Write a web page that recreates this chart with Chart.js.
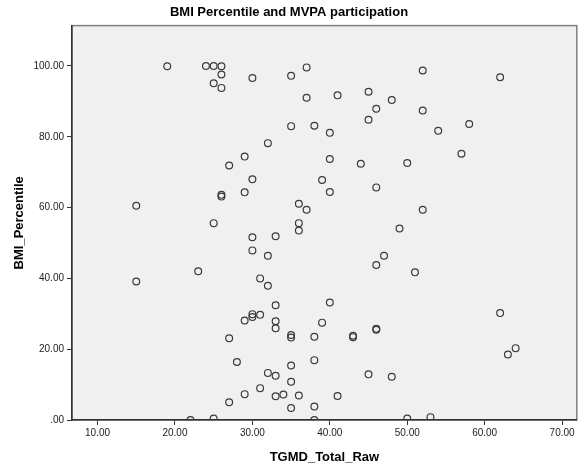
<!DOCTYPE html>
<html>
<head>
<meta charset="utf-8">
<script src="https://cdn.jsdelivr.net/npm/chart.js@4.4.1/dist/chart.umd.min.js"></script>
<style>
  body { margin: 0; background: #fff; }
  canvas { display: block; }
</style>
</head>
<body>
<canvas id="scatter" width="582" height="466"></canvas>
<script>
// TGMD raw score (x) and BMI percentile (y)
const tgmdRaw = [
    19, 24, 25, 26, 26, 30, 25, 26, 35, 37, 37, 35, 38, 32, 29, 27, 30, 29, 26, 26,
    15, 36, 37, 25, 36, 36, 52, 62, 41, 45, 48, 46, 52, 45, 40, 54, 58, 57, 40, 44,
    50, 39, 40, 46, 52, 49, 30, 33, 30, 32, 23, 15, 31, 32, 33, 29, 30, 30, 31, 33,
    33, 35, 35, 38, 39, 27, 38, 28, 35, 32, 33, 35, 31, 29, 33, 34, 36, 27, 35, 38,
    22, 25, 38, 47, 46, 51, 40, 62, 43, 43, 46, 46, 63, 64, 45, 48, 41, 50, 53
];
const bmiPercentile = [
    99.9, 100, 100, 99.9, 97.6, 96.6, 95.1, 93.8, 97.2, 99.6, 91.0, 83.0, 83.1, 78.2, 74.4, 71.9, 68.0, 64.3, 63.6, 63.1,
    60.5, 61.1, 59.4, 55.6, 55.6, 53.5, 98.7, 96.8, 91.7, 92.7, 90.4, 87.9, 87.4, 84.8, 81.1, 81.7, 83.6, 75.2, 73.7, 72.4,
    72.6, 67.8, 64.4, 65.7, 59.4, 54.1, 51.6, 51.9, 47.9, 46.4, 42.0, 39.1, 40.0, 37.9, 32.4, 28.1, 29.9, 29.1, 29.7, 27.9,
    25.9, 24.0, 23.3, 23.5, 27.5, 23.1, 16.9, 16.4, 15.4, 13.3, 12.5, 10.8, 9.0, 7.3, 6.7, 7.2, 6.9, 5.0, 3.4, 3.8,
    0, 0.4, 0, 46.4, 43.8, 41.7, 33.2, 30.2, 23.4, 23.8, 25.5, 25.8, 18.5, 20.3, 12.9, 12.2, 6.8, 0.4, 0.8
];
const xTicks = [10, 20, 30, 40, 50, 60, 70];
const yTicks = [0, 20, 40, 60, 80, 100];

const points = tgmdRaw.map((x, i) => ({ x: x, y: bmiPercentile[i] }));

// SPSS style labels: "20.00", ".00"
function spssLabel(v) {
    const s = Number(v).toFixed(2);
    return s.startsWith('0.') ? s.slice(1) : s;
}

const plotFrame = {
    id: 'plotFrame',
    beforeDraw(chart) {
        const { ctx, chartArea: a } = chart;
        ctx.save();
        ctx.fillStyle = '#f0f0f0';
        ctx.fillRect(a.left, a.top, a.right - a.left, a.bottom - a.top);
        ctx.strokeStyle = '#808080';
        ctx.lineWidth = 1.5;
        ctx.strokeRect(a.left, a.top, a.right - a.left, a.bottom - a.top);
        ctx.restore();
    }
};

Chart.defaults.font.family = '"Liberation Sans", Arial, sans-serif';
Chart.defaults.color = '#222';

new Chart(document.getElementById('scatter'), {
    type: 'scatter',
    data: {
        datasets: [{
            data: points,
            pointStyle: 'circle',
            pointRadius: 3.4,
            pointBorderWidth: 1.2,
            borderColor: '#3a3a3a',
            backgroundColor: 'rgba(0,0,0,0)',
            clip: 0
        }]
    },
    options: {
        responsive: false,
        animation: false,
        layout: { padding: { left: 0, right: 4, top: 0, bottom: 0 } },
        plugins: {
            legend: { display: false },
            tooltip: { enabled: false },
            title: {
                display: true,
                text: 'BMI Percentile and MVPA participation',
                color: '#000',
                font: { size: 13, weight: 'bold' },
                padding: { top: 5, bottom: 5 }
            }
        },
        scales: {
            x: {
                type: 'linear',
                min: 6.7,
                max: 71.9,
                afterBuildTicks: (scale) => { scale.ticks = xTicks.map(v => ({ value: v })); },
                afterFit: (scale) => { scale.height = 46; },
                ticks: {
                    callback: spssLabel,
                    font: { size: 10 },
                    color: '#222',
                    padding: 2,
                    maxRotation: 0
                },
                grid: { drawOnChartArea: false, tickLength: 5, color: '#333' },
                border: { color: '#333', width: 1.5 },
                title: {
                    display: true,
                    text: 'TGMD_Total_Raw',
                    color: '#000',
                    font: { size: 13, weight: 'bold' },
                    padding: { top: 4, bottom: 1 }
                }
            },
            y: {
                type: 'linear',
                min: 0,
                max: 111.4,
                afterBuildTicks: (scale) => { scale.ticks = yTicks.map(v => ({ value: v })); },
                afterFit: (scale) => { scale.width = 72; },
                ticks: {
                    callback: spssLabel,
                    font: { size: 10 },
                    color: '#222',
                    padding: 3
                },
                grid: { drawOnChartArea: false, tickLength: 5, color: '#333' },
                border: { color: '#333', width: 1.5 },
                title: {
                    display: true,
                    text: 'BMI_Percentile',
                    color: '#000',
                    font: { size: 13, weight: 'bold' },
                    padding: { top: 12, bottom: 0 }
                }
            }
        }
    },
    plugins: [plotFrame]
});
</script>
</body>
</html>
